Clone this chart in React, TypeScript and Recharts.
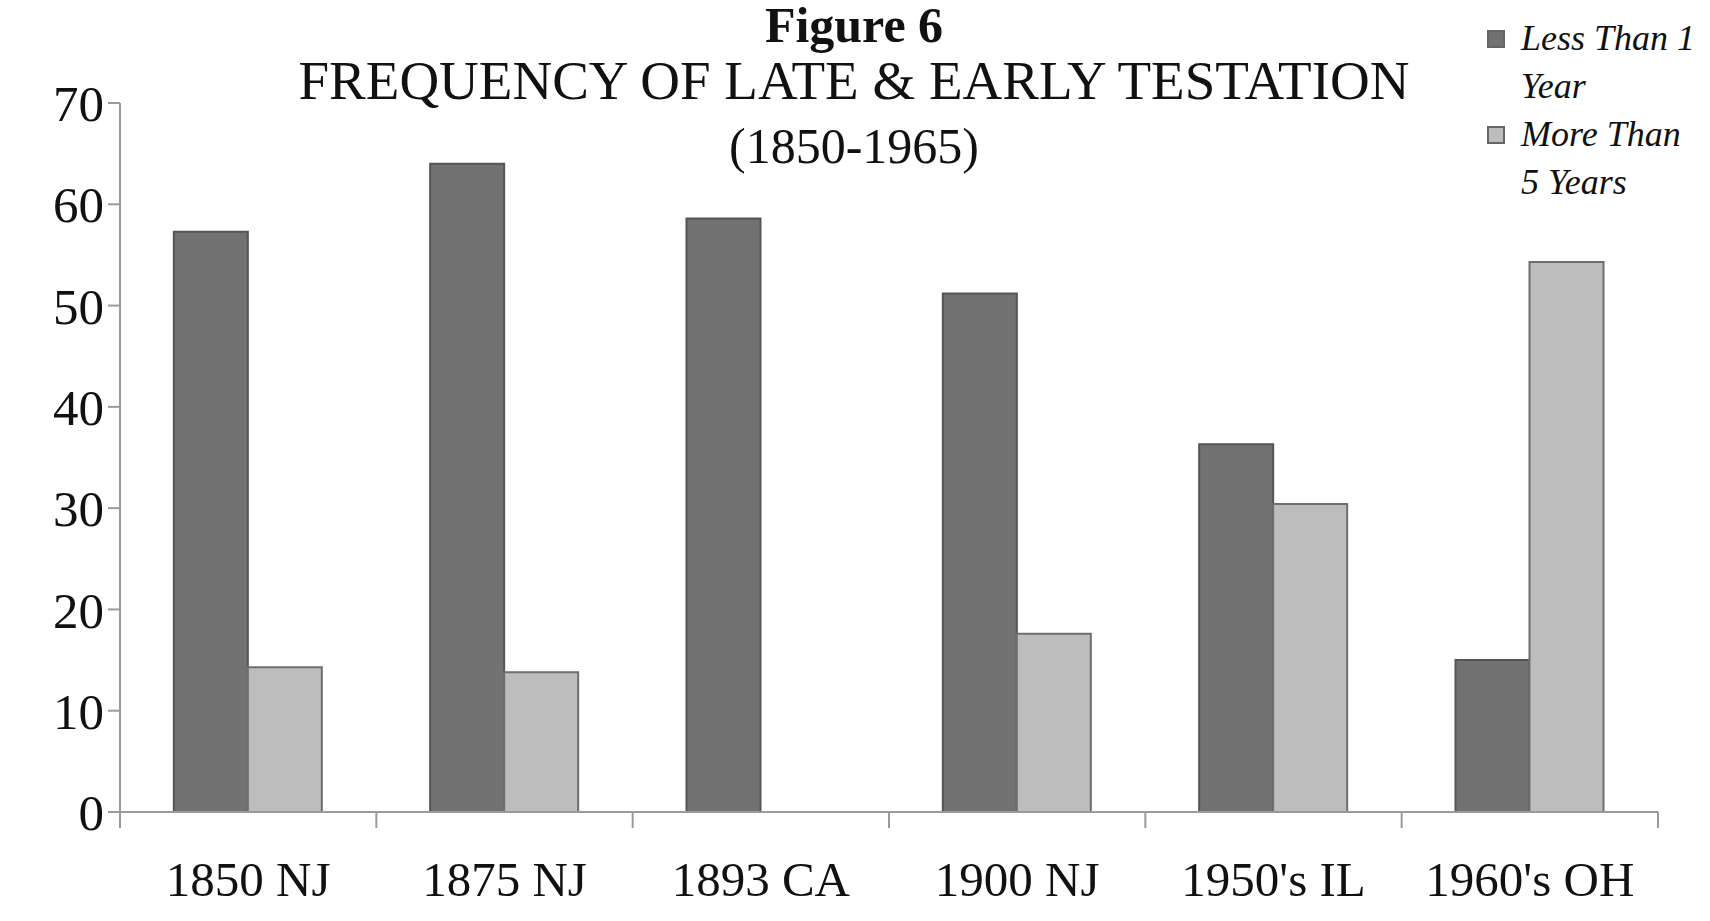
import { Bar, BarChart, XAxis, YAxis } from 'recharts';

const categories = ['1850 NJ', '1875 NJ', '1893 CA', '1900 NJ', "1950's IL", "1960's OH"];
const lessThanOne = [57.3, 64, 58.6, 51.2, 36.3, 15];
const moreThanFive = [14.3, 13.8, 0, 17.6, 30.4, 54.3];
const yTicks = [0, 10, 20, 30, 40, 50, 60, 70];

const data = categories.map((name, i) => ({
  name,
  less: lessThanOne[i],
  more: moreThanFive[i],
}));

const FONT = '"Liberation Serif", "Times New Roman", serif';
const AXIS = '#9a9a9a';

function CategoryTick(props: any) {
  const { x, y, payload, index } = props;
  const half = payload.offset ?? 128;
  const last = index === categories.length - 1;
  return (
    <g>
      <line x1={x - half} y1={y - 8} x2={x - half} y2={y + 8} stroke={AXIS} strokeWidth={2} />
      {last && <line x1={x + half} y1={y - 8} x2={x + half} y2={y + 8} stroke={AXIS} strokeWidth={2} />}
      <text x={x} y={y + 76} textAnchor="middle" fontSize={49} fill="#111" fontFamily={FONT}>
        {payload.value}
      </text>
    </g>
  );
}

function LegendBox() {
  const items = [
    { label: ['Less Than 1', 'Year'], fill: '#727272' },
    { label: ['More Than', '5 Years'], fill: '#bdbdbd' },
  ];
  return (
    <div
      style={{
        position: 'absolute',
        left: 1487,
        top: 14,
        width: 220,
        fontFamily: FONT,
        fontStyle: 'italic',
        fontSize: 36,
        color: '#111',
        lineHeight: '48px',
      }}
    >
      {items.map((it) => (
        <div key={it.label[0]} style={{ position: 'relative', paddingLeft: 34 }}>
          <span
            style={{
              position: 'absolute',
              left: 0,
              top: 16,
              width: 18,
              height: 18,
              background: it.fill,
              border: '2px solid #666',
              boxSizing: 'border-box',
            }}
          />
          <div>{it.label[0]}</div>
          <div>{it.label[1]}</div>
        </div>
      ))}
    </div>
  );
}

export default function App() {
  return (
    <div style={{ position: 'absolute', left: 0, top: 0, width: 1710, height: 921, background: '#fff' }}>
      <BarChart
        width={1710}
        height={921}
        data={data}
        margin={{ top: 103, right: 52, bottom: 0, left: 0 }}
        barCategoryGap="21%"
        barGap={0}
        style={{ position: 'absolute', left: 0, top: 0 }}
      >
        <XAxis
          dataKey="name"
          stroke={AXIS}
          strokeWidth={2}
          tickLine={false}
          interval={0}
          tick={<CategoryTick />}
          height={109}
        />
        <YAxis
          domain={[0, 70]}
          ticks={yTicks}
          width={120}
          stroke={AXIS}
          strokeWidth={2}
          tickSize={12}
          tickMargin={4}
          tick={{ fontSize: 51, fill: '#111', fontFamily: FONT }}
        />
        <Bar dataKey="less" fill="#727272" stroke="#555" strokeWidth={2} isAnimationActive={false} />
        <Bar dataKey="more" fill="#bdbdbd" stroke="#6e6e6e" strokeWidth={2} isAnimationActive={false} />
      </BarChart>
      <div style={{ position: 'absolute', left: 254, width: 1200, top: 0, fontSize: 50, lineHeight: '50px', fontWeight: 'bold', textAlign: 'center', fontFamily: FONT, color: '#111' }}>
        Figure 6
      </div>
      <div style={{ position: 'absolute', left: 254, width: 1200, top: 52, fontSize: 55, lineHeight: '58px', textAlign: 'center', fontFamily: FONT, color: '#111' }}>
        FREQUENCY OF LATE &amp; EARLY TESTATION
      </div>
      <div style={{ position: 'absolute', left: 254, width: 1200, top: 118, fontSize: 50, lineHeight: '56px', textAlign: 'center', fontFamily: FONT, color: '#111' }}>
        (1850-1965)
      </div>
      <LegendBox />
    </div>
  );
}
